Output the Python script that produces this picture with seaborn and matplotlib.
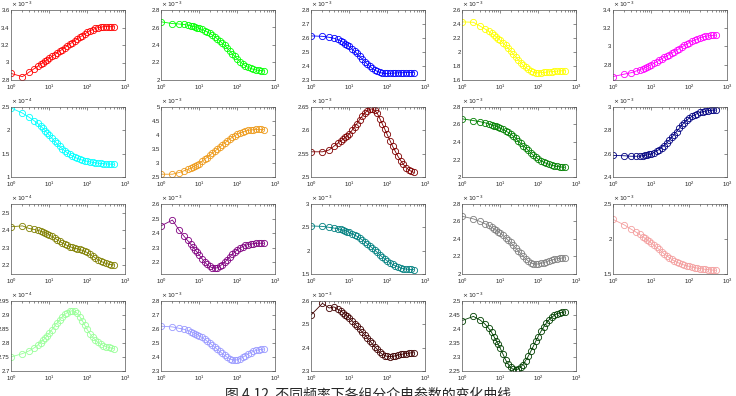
import matplotlib
matplotlib.use("Agg")
import matplotlib.pyplot as plt
import seaborn as sns
import pandas as pd
from matplotlib.ticker import FuncFormatter, LogLocator, NullFormatter

# ---------------- data (in units of 10^exp) -------------
X = [1, 2, 3, 4, 5, 6, 7, 8, 9, 10, 12, 14, 16, 19, 22, 26, 30, 35, 40, 47, 55, 65, 75,
     88, 100, 120, 140, 165, 195, 230, 270, 320, 380, 440, 500]

s01 = [2.875, 2.838, 2.89, 2.927, 2.956, 2.98, 3.0, 3.017, 3.032, 3.046, 3.07, 3.09, 3.107,
       3.13, 3.148, 3.17, 3.19, 3.21, 3.227, 3.248, 3.268, 3.29, 3.307, 3.327, 3.343, 3.362,
       3.376, 3.389, 3.399, 3.405, 3.409, 3.41, 3.41, 3.409, 3.408]
s02 = [2.665, 2.645, 2.64, 2.635, 2.628, 2.62, 2.612, 2.605, 2.598, 2.59, 2.578, 2.565, 2.552,
       2.535, 2.517, 2.495, 2.472, 2.448, 2.425, 2.398, 2.366, 2.33, 2.30, 2.27, 2.245, 2.21,
       2.185, 2.162, 2.145, 2.132, 2.122, 2.115, 2.11, 2.107, 2.105]
s03 = [2.615, 2.612, 2.605, 2.598, 2.59, 2.58, 2.57, 2.56, 2.55, 2.54, 2.522, 2.505, 2.49,
       2.47, 2.452, 2.432, 2.415, 2.398, 2.385, 2.372, 2.362, 2.354, 2.349, 2.347, 2.347,
       2.348, 2.349, 2.35, 2.351, 2.352, 2.352, 2.353, 2.353, 2.353, 2.353]
s04 = [2.43, 2.425, 2.37, 2.33, 2.295, 2.265, 2.24, 2.215, 2.192, 2.17, 2.13, 2.095, 2.06,
       2.015, 1.975, 1.93, 1.89, 1.85, 1.815, 1.78, 1.752, 1.728, 1.713, 1.705, 1.703, 1.705,
       1.708, 1.712, 1.716, 1.72, 1.724, 1.727, 1.73, 1.732, 1.733]
s05 = [2.668, 2.695, 2.71, 2.728, 2.743, 2.756, 2.767, 2.778, 2.788, 2.798, 2.815, 2.83, 2.845,
       2.863, 2.878, 2.895, 2.91, 2.925, 2.94, 2.957, 2.975, 2.995, 3.01, 3.027, 3.04, 3.057,
       3.07, 3.083, 3.095, 3.104, 3.111, 3.116, 3.12, 3.122, 3.123]
s06 = [2.48, 2.37, 2.28, 2.21, 2.15, 2.09, 2.04, 1.99, 1.945, 1.90, 1.83, 1.77, 1.72, 1.66,
       1.61, 1.56, 1.52, 1.485, 1.455, 1.425, 1.40, 1.378, 1.362, 1.348, 1.338, 1.325, 1.315,
       1.305, 1.297, 1.29, 1.285, 1.28, 1.277, 1.275, 1.273]
s07 = [2.6, 2.6, 2.66, 2.72, 2.77, 2.81, 2.86, 2.9, 2.94, 2.98, 3.06, 3.13, 3.19, 3.27, 3.34,
       3.42, 3.49, 3.56, 3.63, 3.71, 3.78, 3.86, 3.92, 3.98, 4.02, 4.07, 4.11, 4.14, 4.165,
       4.18, 4.19, 4.2, 4.2, 4.2, 4.195]
s08 = [2.554, 2.554, 2.558, 2.566, 2.572, 2.577, 2.581, 2.585, 2.588, 2.592, 2.6, 2.607, 2.614,
       2.623, 2.63, 2.637, 2.642, 2.645, 2.646, 2.643, 2.637, 2.625, 2.614, 2.602, 2.592,
       2.578, 2.566, 2.555, 2.544, 2.535, 2.527, 2.52, 2.515, 2.512, 2.51]
s09 = [2.665, 2.645, 2.632, 2.62, 2.608, 2.597, 2.587, 2.578, 2.569, 2.56, 2.543, 2.527, 2.512,
       2.49, 2.47, 2.445, 2.41, 2.385, 2.36, 2.335, 2.305, 2.275, 2.25, 2.225, 2.205, 2.185,
       2.17, 2.157, 2.145, 2.135, 2.127, 2.12, 2.116, 2.113, 2.111]
s10 = [2.585, 2.582, 2.578, 2.578, 2.579, 2.582, 2.585, 2.589, 2.593, 2.598, 2.61, 2.622, 2.634,
       2.652, 2.67, 2.693, 2.715, 2.74, 2.763, 2.79, 2.816, 2.845, 2.867, 2.888, 2.903, 2.92,
       2.933, 2.944, 2.953, 2.96, 2.965, 2.969, 2.972, 2.973, 2.974]
s11 = [2.42, 2.425, 2.41, 2.405, 2.40, 2.395, 2.39, 2.385, 2.38, 2.375, 2.365, 2.355, 2.347,
       2.337, 2.328, 2.32, 2.313, 2.307, 2.302, 2.298, 2.294, 2.29, 2.285, 2.279, 2.273, 2.262,
       2.252, 2.242, 2.232, 2.223, 2.216, 2.21, 2.206, 2.203, 2.202]
s12 = [2.45, 2.49, 2.42, 2.38, 2.35, 2.325, 2.305, 2.285, 2.268, 2.252, 2.225, 2.203, 2.187,
       2.172, 2.163, 2.16, 2.163, 2.172, 2.185, 2.2, 2.218, 2.238, 2.255, 2.272, 2.284, 2.298,
       2.308, 2.316, 2.322, 2.326, 2.328, 2.33, 2.331, 2.331, 2.331]
s13 = [2.53, 2.52, 2.5, 2.485, 2.47, 2.455, 2.44, 2.425, 2.41, 2.395, 2.365, 2.335, 2.31, 2.27,
       2.235, 2.19, 2.15, 2.105, 2.065, 2.015, 1.965, 1.91, 1.865, 1.82, 1.785, 1.74, 1.705,
       1.675, 1.65, 1.63, 1.615, 1.605, 1.6, 1.597, 1.595]
s14 = [2.66, 2.63, 2.6, 2.575, 2.555, 2.535, 2.515, 2.5, 2.485, 2.47, 2.44, 2.415, 2.39, 2.36,
       2.33, 2.295, 2.265, 2.235, 2.205, 2.175, 2.15, 2.128, 2.117, 2.113, 2.115, 2.122, 2.13,
       2.14, 2.15, 2.16, 2.168, 2.175, 2.18, 2.183, 2.185]
s15 = [2.28, 2.2, 2.14, 2.1, 2.065, 2.035, 2.01, 1.985, 1.965, 1.945, 1.91, 1.88, 1.855, 1.82,
       1.79, 1.76, 1.735, 1.71, 1.69, 1.672, 1.655, 1.64, 1.628, 1.617, 1.61, 1.6, 1.592,
       1.585, 1.578, 1.572, 1.567, 1.562, 1.558, 1.555, 1.553]
s16 = [2.75, 2.762, 2.772, 2.782, 2.792, 2.801, 2.81, 2.818, 2.826, 2.834, 2.848, 2.86, 2.87,
       2.882, 2.892, 2.902, 2.908, 2.913, 2.915, 2.913, 2.906, 2.894, 2.88, 2.863, 2.849,
       2.833, 2.821, 2.811, 2.802, 2.796, 2.791, 2.787, 2.784, 2.782, 2.78]
s17 = [2.62, 2.615, 2.605, 2.598, 2.59, 2.582, 2.574, 2.567, 2.56, 2.553, 2.54, 2.527, 2.515,
       2.5, 2.486, 2.47, 2.455, 2.44, 2.427, 2.412, 2.398, 2.386, 2.38, 2.378, 2.38, 2.388,
       2.397, 2.41, 2.422, 2.432, 2.44, 2.447, 2.452, 2.455, 2.457]
s18 = [2.54, 2.59, 2.57, 2.575, 2.565, 2.558, 2.55, 2.542, 2.535, 2.528, 2.515, 2.503, 2.493,
       2.48, 2.468, 2.455, 2.443, 2.43, 2.418, 2.405, 2.393, 2.38, 2.372, 2.366, 2.363, 2.362,
       2.363, 2.365, 2.368, 2.371, 2.373, 2.375, 2.377, 2.378, 2.378]
s19 = [2.43, 2.445, 2.432, 2.418, 2.403, 2.388, 2.372, 2.358, 2.345, 2.333, 2.31, 2.29, 2.276,
       2.263, 2.256, 2.254, 2.257, 2.264, 2.273, 2.287, 2.302, 2.321, 2.338, 2.357, 2.372,
       2.392, 2.407, 2.421, 2.433, 2.442, 2.449, 2.455, 2.458, 2.46, 2.461]

SERIES = [s01, s02, s03, s04, s05, s06, s07, s08, s09, s10,
          s11, s12, s13, s14, s15, s16, s17, s18, s19]
EXPONENTS = [-3, -3, -3, -3, -3, -4, -3, -3, -3, -3,
             -4, -3, -3, -3, -3, -4, -3, -3, -3]
YLIMS = [(2.8, 3.6), (2.0, 2.8), (2.3, 2.8), (1.6, 2.6), (2.63, 3.4),
         (1.0, 2.5), (2.5, 5.0), (2.5, 2.65), (2.0, 2.8), (2.4, 3.0),
         (2.15, 2.55), (2.12, 2.6), (1.5, 3.0), (2.0, 2.8), (1.5, 2.5),
         (2.7, 2.95), (2.3, 2.8), (2.3, 2.6), (2.25, 2.5)]
YTICKS = [[2.8, 3, 3.2, 3.4, 3.6], [2, 2.2, 2.4, 2.6, 2.8], [2.3, 2.4, 2.5, 2.6, 2.7, 2.8],
          [1.6, 1.8, 2, 2.2, 2.4, 2.6], [2.8, 3, 3.2, 3.4],
          [1, 1.5, 2, 2.5], [2.5, 3, 3.5, 4, 4.5, 5], [2.5, 2.55, 2.6, 2.65],
          [2, 2.2, 2.4, 2.6, 2.8], [2.4, 2.6, 2.8, 3],
          [2.2, 2.3, 2.4, 2.5], [2.2, 2.3, 2.4, 2.5, 2.6], [1.5, 2, 2.5, 3],
          [2, 2.2, 2.4, 2.6, 2.8], [1.5, 2, 2.5],
          [2.7, 2.75, 2.8, 2.85, 2.9, 2.95], [2.3, 2.4, 2.5, 2.6, 2.7, 2.8],
          [2.3, 2.4, 2.5, 2.6], [2.25, 2.3, 2.35, 2.4, 2.45, 2.5]]
COLORS = ['#FF0000', '#00FF00', '#0000FF', '#FFFF00', '#FF00FF',
          '#00FFFF', '#EE9A1A', '#800000', '#008000', '#000080',
          '#808000', '#800080', '#008080', '#808080', '#F4A0A0',
          '#99FF99', '#9999FF', '#400000', '#004000']
CAPTION = "图 4.12  不同频率下各组分介电参数的变化曲线"

# ---------------- figure ----------------
sns.set_style("white")
plt.rcParams['font.family'] = ['Liberation Sans', 'DejaVu Sans', 'Noto Sans CJK SC']

W, H = 736, 396
fig = plt.figure(figsize=(W / 100, H / 100), dpi=100)

col_left = [11, 161, 311, 462, 613]
row_top = [10, 107, 204, 301]
aw, ah = 114, 70

fmt = FuncFormatter(lambda v, p: f"{v:g}")

for i, ys in enumerate(SERIES):
    r, c = divmod(i, 5)
    ax = fig.add_axes([col_left[c] / W, 1 - (row_top[r] + ah) / H, aw / W, ah / H])
    df = pd.DataFrame({"x": X, "y": ys})
    sns.lineplot(data=df, x="x", y="y", ax=ax, color=COLORS[i], marker="o",
                 markersize=4.5, markerfacecolor="none", markeredgecolor=COLORS[i],
                 markeredgewidth=0.6, linewidth=0.6, estimator=None)
    ax.set_xscale("log")
    ax.set_xlim(1, 1000)
    ax.set_ylim(*YLIMS[i])
    ax.set_yticks(YTICKS[i])
    ax.yaxis.set_major_formatter(fmt)
    ax.xaxis.set_major_locator(LogLocator(base=10, numticks=5))
    ax.xaxis.set_minor_locator(LogLocator(base=10, subs=range(2, 10), numticks=10))
    ax.xaxis.set_minor_formatter(NullFormatter())
    ax.set_xlabel("")
    ax.set_ylabel("")
    ax.tick_params(axis="both", which="both", direction="in", top=True, right=True,
                   labelsize=4.3, width=0.4, color="#333333")
    ax.tick_params(axis="y", pad=1.0)
    ax.tick_params(axis="x", pad=1.8)
    ax.tick_params(axis="both", which="major", length=2.2)
    ax.tick_params(axis="both", which="minor", length=1.2)
    for sp in ax.spines.values():
        sp.set_linewidth(0.5)
        sp.set_color("#555555")
    ax.text(0.0, 1.01, r"$\times\,10^{%d}$" % EXPONENTS[i], transform=ax.transAxes,
            fontsize=4.3, ha="left", va="bottom")
    ax.grid(False)

fig.text(0.5, 0.022, CAPTION, ha="center", va="top", fontsize=10,
         family=['Noto Sans CJK SC', 'DejaVu Sans'])

fig.savefig("out.png", dpi=100)
